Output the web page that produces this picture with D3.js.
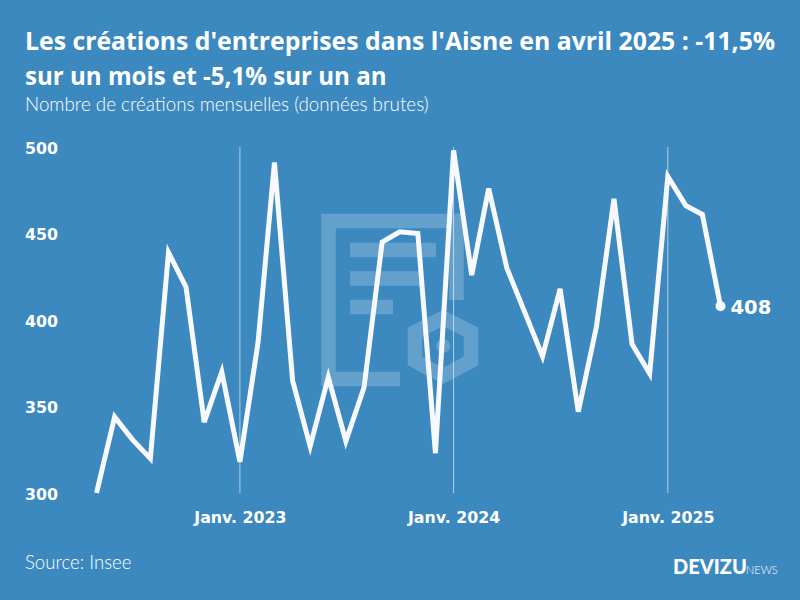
<!DOCTYPE html>
<html>
<head>
<meta charset="utf-8">
<script src="https://cdn.jsdelivr.net/npm/d3@7"></script>
<style>
  html, body { margin: 0; padding: 0; background: #3c89c0; }
  text { font-family: Lato, sans-serif; fill: #fff; }
  .axis-label { font-family: "DejaVu Sans", sans-serif; font-weight: 700; font-size: 15.8px; }
</style>
</head>
<body>
<svg id="chart" width="800" height="600"></svg>
<script>
var months = ["2022-05","2022-06","2022-07","2022-08","2022-09","2022-10","2022-11","2022-12",
  "2023-01","2023-02","2023-03","2023-04","2023-05","2023-06","2023-07","2023-08","2023-09","2023-10","2023-11","2023-12",
  "2024-01","2024-02","2024-03","2024-04","2024-05","2024-06","2024-07","2024-08","2024-09","2024-10","2024-11","2024-12",
  "2025-01","2025-02","2025-03","2025-04"];
var values = [300,344,331,320,439,419,341,370,
  318,387,491,365,327,367,330,361,445,451,450,323,
  498,426,476,430,405,379,418,347,396,470,386,369,
  483,466,461,408];
var yTicks = [300,350,400,450,500];
var xTicks = ["2023-01","2024-01","2025-01"];
var xTickLabels = ["Janv. 2023","Janv. 2024","Janv. 2025"];

var parse = d3.timeParse("%Y-%m");
var dates = months.map(parse);

var svg = d3.select("#chart");

var x = d3.scaleTime()
  .domain([dates[0], dates[dates.length - 1]])
  .range([96.5, 720.5]);
var y = d3.scaleLinear()
  .domain([300, 500])
  .range([493, 147]);

svg.append("rect").attr("width", 800).attr("height", 600).attr("fill", "#3c89c0");

// watermark logo behind the chart
var logo = svg.append("g").attr("fill", "none").attr("stroke", "#fff").attr("stroke-opacity", 0.2).attr("stroke-width", 14.5);
logo.append("path").attr("d", "M400,379H328.500V221H456.500V300");
logo.append("path").attr("d", "M350,250H436M350,278.500H422M350,307H393");
logo.append("path").attr("d", "M443,318L471,332V361L443,376L415,361V332Z");
svg.append("circle").attr("cx", 443).attr("cy", 346).attr("r", 7).attr("fill", "#fff").attr("fill-opacity", 0.2);

// vertical january rules
svg.append("g").selectAll("line")
  .data(xTicks)
  .enter().append("line")
  .attr("x1", function(d) { return x(parse(d)); })
  .attr("x2", function(d) { return x(parse(d)); })
  .attr("y1", y(500))
  .attr("y2", y(300))
  .attr("stroke", "#fff")
  .attr("stroke-opacity", 0.6)
  .attr("stroke-width", 1);

var line = d3.line()
  .x(function(d, i) { return x(dates[i]); })
  .y(function(d) { return y(d); });

svg.append("path")
  .datum(values)
  .attr("d", line)
  .attr("fill", "none")
  .attr("stroke", "#f8f8ff")
  .attr("stroke-width", 5);

var last = values.length - 1;
svg.append("circle")
  .attr("cx", x(dates[last]))
  .attr("cy", y(values[last]))
  .attr("r", 5)
  .attr("fill", "#f8f8ff");

svg.append("text")
  .attr("x", x(dates[last]) + 10)
  .attr("y", y(values[last]) + 1)
  .attr("dy", ".37em")
  .style("font-family", "'DejaVu Sans', sans-serif")
  .style("font-weight", 700)
  .style("font-size", "19.5px")
  .text(values[last]);

// axes
var yAxis = svg.append("g")
  .attr("transform", "translate(60,1)")
  .call(d3.axisLeft(y).tickValues(yTicks).tickSize(0));
yAxis.select(".domain").remove();
yAxis.selectAll("text")
  .attr("class", "axis-label")
  .attr("x", -35)
  .attr("text-anchor", "start");

var xAxis = svg.append("g")
  .attr("transform", "translate(0,510)")
  .call(d3.axisBottom(x)
    .tickValues(xTicks.map(parse))
    .tickSize(0)
    .tickFormat(function(d, i) { return xTickLabels[i]; }));
xAxis.select(".domain").remove();
xAxis.selectAll("text")
  .attr("class", "axis-label")
  .attr("y", 2)
  .attr("dy", ".71em");

// titles
svg.append("text").attr("x", 25).attr("y", 50)
  .style("font-family", "'Open Sans', sans-serif")
  .style("font-weight", 700).style("font-size", "24.8px")
  .text("Les créations d'entreprises dans l'Aisne en avril 2025 : -11,5%");
svg.append("text").attr("x", 25).attr("y", 85)
  .style("font-family", "'Open Sans', sans-serif")
  .style("font-weight", 700).style("font-size", "24.1px")
  .text("sur un mois et -5,1% sur un an");
svg.append("text").attr("x", 25).attr("y", 111)
  .style("font-weight", 300).style("font-size", "18.8px")
  .text("Nombre de créations mensuelles (données brutes)");
svg.append("text").attr("x", 25).attr("y", 569)
  .style("font-weight", 300).style("font-size", "18.6px")
  .text("Source: Insee");

// brand
svg.append("text").attr("x", 673).attr("y", 574)
  .style("font-weight", 900).style("font-size", "20px")
  .text("DEVIZU");
svg.append("text").attr("x", 746).attr("y", 574)
  .style("font-weight", 300).style("font-size", "11px")
  .text("NEWS");
</script>
</body>
</html>
